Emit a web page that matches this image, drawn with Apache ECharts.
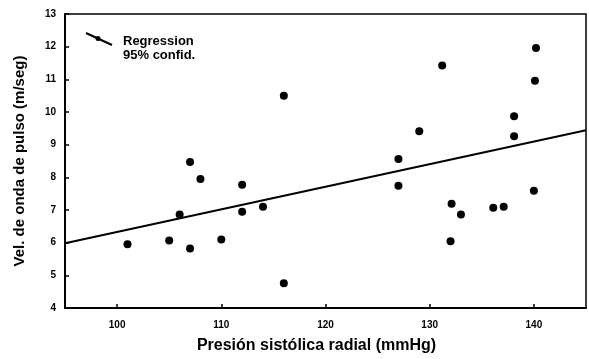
<!DOCTYPE html>
<html>
<head>
<meta charset="utf-8">
<script src="https://cdn.jsdelivr.net/npm/echarts@6/dist/echarts.min.js"></script>
<style>html,body{margin:0;padding:0;background:#fff;}#c{width:589px;height:359px;}</style>
</head>
<body>
<div id="c"></div>
<script>
// Data
var pressure = [101, 105, 106, 107, 107, 108, 110, 112, 112, 114, 116, 116, 127, 127, 129, 131.2, 132.1, 132, 133, 136.1, 137.1, 138.1, 138.1, 140.2, 140.1, 140];
var velocity = [5.95, 6.07, 6.86, 5.82, 8.47, 7.95, 6.1, 7.77, 6.95, 7.1, 4.76, 10.5, 7.74, 8.56, 9.41, 11.42, 7.19, 6.04, 6.86, 7.07, 7.1, 9.87, 9.26, 11.96, 10.96, 7.59];
var regressionX = [95, 145];
var regressionY = [5.98, 9.44];
var xTickLabels = [100, 110, 120, 130, 140];
var yTickLabels = [4, 5, 6, 7, 8, 9, 10, 11, 12, 13];

var points = pressure.map(function (p, i) { return [p, velocity[i]]; });
var regLine = regressionX.map(function (p, i) { return [p, regressionY[i]]; });

var chart = echarts.init(document.getElementById('c'));
var font = 'Liberation Sans, Arial, sans-serif';
chart.setOption({
  animation: false,
  backgroundColor: '#fff',
  grid: { left: 65, right: 3, top: 14, bottom: 49, show: true, borderColor: '#000', borderWidth: 1.5 },
  xAxis: {
    type: 'value', min: 95, max: 145,
    axisLine: { show: true, lineStyle: { color: '#000', width: 2 } },
    axisTick: { show: true, inside: true, length: 4, customValues: xTickLabels, lineStyle: { color: '#000', width: 1.5 } },
    axisLabel: { customValues: xTickLabels, color: '#000', fontFamily: font, fontWeight: 'bold', fontSize: 10, margin: 12 },
    splitLine: { show: false },
    name: 'Presión sistólica radial (mmHg)', nameLocation: 'middle', nameGap: 30,
    nameTextStyle: { color: '#000', fontFamily: font, fontWeight: 'bold', fontSize: 16, padding: [0, 18, 0, 0] }
  },
  yAxis: {
    type: 'value', min: 4, max: 13, interval: 1,
    axisLine: { show: true, lineStyle: { color: '#000', width: 2 } },
    axisTick: { show: true, inside: true, length: 4, lineStyle: { color: '#000', width: 1.5 } },
    axisLabel: { color: '#000', fontFamily: font, fontWeight: 'bold', fontSize: 10, margin: 9,
      formatter: function (v) { return yTickLabels.indexOf(v) >= 0 ? String(v) : ''; } },
    splitLine: { show: false },
    name: 'Vel. de onda de pulso (m/seg)', nameLocation: 'middle', nameGap: 38,
    nameTextStyle: { color: '#000', fontFamily: font, fontWeight: 'bold', fontSize: 15 }
  },
  graphic: [
    { type: 'line', shape: { x1: 86, y1: 33, x2: 112, y2: 45 }, style: { stroke: '#000', lineWidth: 2 } },
    { type: 'circle', shape: { cx: 98, cy: 38.5, r: 2.5 }, style: { fill: '#000' } },
    { type: 'text', left: 123, top: 35, style: { text: 'Regression', fill: '#000', font: 'bold 13px ' + font } },
    { type: 'text', left: 123, top: 49, style: { text: '95% confid.', fill: '#000', font: 'bold 13px ' + font } }
  ],
  series: [
    { type: 'line', data: regLine, symbol: 'none', lineStyle: { color: '#000', width: 2 }, z: 2 },
    { type: 'scatter', data: points, symbol: 'circle', symbolSize: 8, itemStyle: { color: '#000', opacity: 1 }, z: 3 }
  ]
});
</script>
</body>
</html>
